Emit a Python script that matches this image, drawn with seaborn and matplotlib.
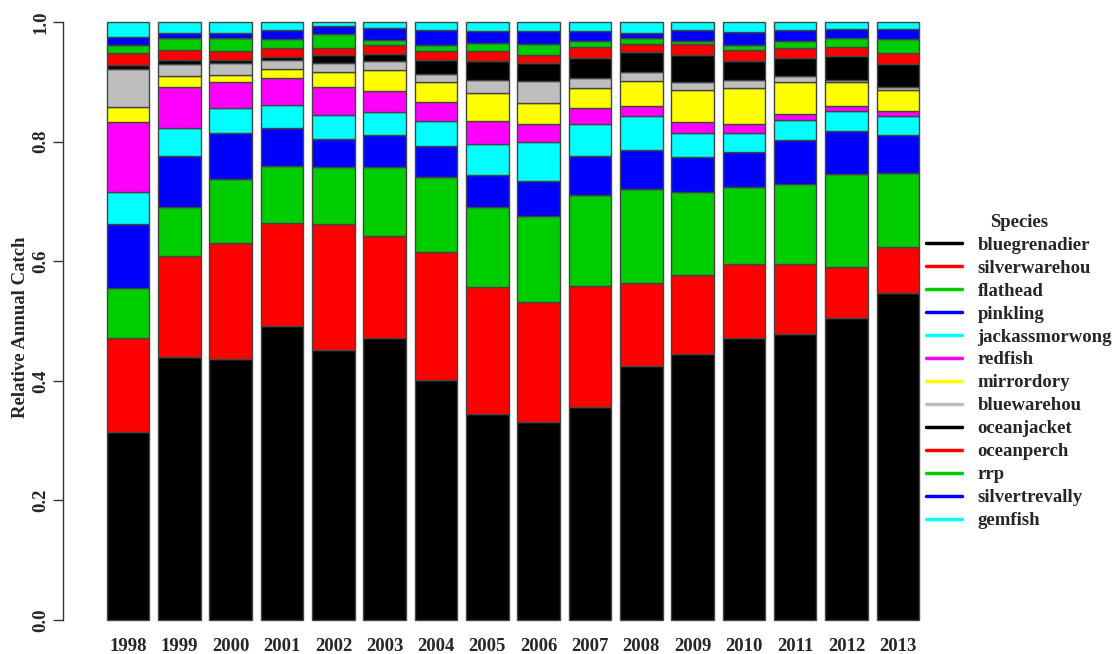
import matplotlib
matplotlib.use('Agg')
import matplotlib.pyplot as plt
import seaborn as sns
import numpy as np
import pandas as pd
from matplotlib.lines import Line2D

years = ['1998', '1999', '2000', '2001', '2002', '2003', '2004', '2005',
         '2006', '2007', '2008', '2009', '2010', '2011', '2012', '2013']

# species in stacking order, bottom to top
species = ['bluegrenadier', 'silverwarehou', 'flathead', 'pinkling', 'jackassmorwong',
           'redfish', 'mirrordory', 'bluewarehou', 'oceanjacket', 'oceanperch',
           'rrp', 'silvertrevally', 'gemfish']
colors = ['#000000', '#FF0000', '#00CD00', '#0000FF', '#00FFFF', '#FF00FF',
          '#FFFF00', '#BEBEBE', '#000000', '#FF0000', '#00CD00', '#0000FF', '#00FFFF']

bluegrenadier = [0.315, 0.440, 0.436, 0.492, 0.452, 0.472, 0.402, 0.344,
                 0.331, 0.357, 0.425, 0.444, 0.471, 0.478, 0.505, 0.547]
silverwarehou = [0.156, 0.169, 0.194, 0.172, 0.210, 0.170, 0.213, 0.213,
                 0.201, 0.202, 0.138, 0.133, 0.124, 0.117, 0.086, 0.076]
flathead = [0.085, 0.082, 0.108, 0.095, 0.095, 0.115, 0.126, 0.133,
            0.144, 0.151, 0.158, 0.139, 0.129, 0.134, 0.155, 0.125]
pinkling = [0.106, 0.085, 0.076, 0.063, 0.048, 0.054, 0.052, 0.054,
            0.058, 0.066, 0.065, 0.059, 0.059, 0.074, 0.071, 0.063]
jackassmorwong = [0.053, 0.047, 0.043, 0.039, 0.040, 0.038, 0.041, 0.052,
                  0.066, 0.054, 0.056, 0.040, 0.032, 0.033, 0.034, 0.032]
redfish = [0.118, 0.069, 0.043, 0.046, 0.047, 0.036, 0.033, 0.039,
           0.029, 0.027, 0.018, 0.018, 0.015, 0.010, 0.009, 0.009]
mirrordory = [0.025, 0.018, 0.011, 0.014, 0.025, 0.035, 0.033, 0.046,
              0.035, 0.032, 0.041, 0.053, 0.060, 0.053, 0.039, 0.034]
bluewarehou = [0.063, 0.019, 0.020, 0.016, 0.015, 0.014, 0.013, 0.022,
               0.037, 0.017, 0.016, 0.014, 0.013, 0.010, 0.004, 0.006]
oceanjacket = [0.007, 0.007, 0.005, 0.005, 0.012, 0.012, 0.023, 0.031,
               0.030, 0.034, 0.033, 0.045, 0.032, 0.031, 0.040, 0.037]
oceanperch = [0.020, 0.017, 0.016, 0.015, 0.012, 0.016, 0.016, 0.018,
              0.014, 0.018, 0.014, 0.018, 0.018, 0.017, 0.016, 0.019]
rrp = [0.014, 0.021, 0.022, 0.014, 0.024, 0.008, 0.010, 0.013,
       0.018, 0.011, 0.009, 0.005, 0.009, 0.011, 0.014, 0.024]
silvertrevally = [0.013, 0.008, 0.008, 0.016, 0.013, 0.020, 0.025, 0.020,
                  0.022, 0.016, 0.009, 0.019, 0.022, 0.019, 0.015, 0.017]
gemfish = [0.025, 0.018, 0.018, 0.013, 0.007, 0.010, 0.013, 0.015,
           0.015, 0.015, 0.018, 0.013, 0.016, 0.013, 0.012, 0.011]

values = [bluegrenadier, silverwarehou, flathead, pinkling, jackassmorwong, redfish,
          mirrordory, bluewarehou, oceanjacket, oceanperch, rrp, silvertrevally, gemfish]

sns.set_theme(style="white")
plt.rcParams['font.family'] = ['Liberation Serif', 'DejaVu Serif']
plt.rcParams['font.weight'] = 'bold'
FS = 13.5

fig = plt.figure(figsize=(11.17, 6.54), dpi=100)
ax = fig.add_axes([63 / 1117, 34 / 654, (925 - 63) / 1117, 598 / 654])

bottom = np.zeros(len(years))
for name, vals, col in zip(species, values, colors):
    df = pd.DataFrame({'year': years, 'share': vals})
    sns.barplot(data=df, x='year', y='share', bottom=bottom, color=col,
                saturation=1, width=0.83, errorbar=None, edgecolor='#444444',
                linewidth=1.0, ax=ax, clip_on=False)
    bottom = bottom + np.array(vals)

ax.set_xlim(-1.27, 15.53)
ax.set_ylim(0, 1)
for s in ['top', 'right', 'bottom']:
    ax.spines[s].set_visible(False)
ax.spines['left'].set_bounds(0, 1)
ax.spines['left'].set_color('#333333')
ax.spines['left'].set_linewidth(1.0)

ax.set_yticks([0, 0.2, 0.4, 0.6, 0.8, 1.0])
ax.set_yticklabels(['0.0', '0.2', '0.4', '0.6', '0.8', '1.0'], rotation=90,
                   va='center', fontsize=FS, fontweight='bold')
ax.tick_params(axis='y', left=True, length=7, width=1, color='#333333', pad=3)
ax.tick_params(axis='x', bottom=False, length=0, pad=13)
for lab in ax.get_xticklabels():
    lab.set_fontsize(FS)
    lab.set_fontweight('bold')

ax.set_xlabel('')
ax.set_ylabel('Relative Annual Catch', fontsize=FS, fontweight='bold')
ax.yaxis.set_label_coords(-0.040, 0.49)
ax.grid(False)

handles = [Line2D([0], [0], color=c, lw=2.5) for c in colors]
leg = fig.legend(handles, species, loc='upper left', bbox_to_anchor=(909 / 1117, 1 - 197 / 654),
                 frameon=False, title='Species', handlelength=1.9, handletextpad=0.85,
                 labelspacing=0.31, prop={'weight': 'bold', 'size': FS})
leg.get_title().set_fontweight('bold')
leg.get_title().set_fontsize(FS)

fig.savefig('out.png', dpi=100)
